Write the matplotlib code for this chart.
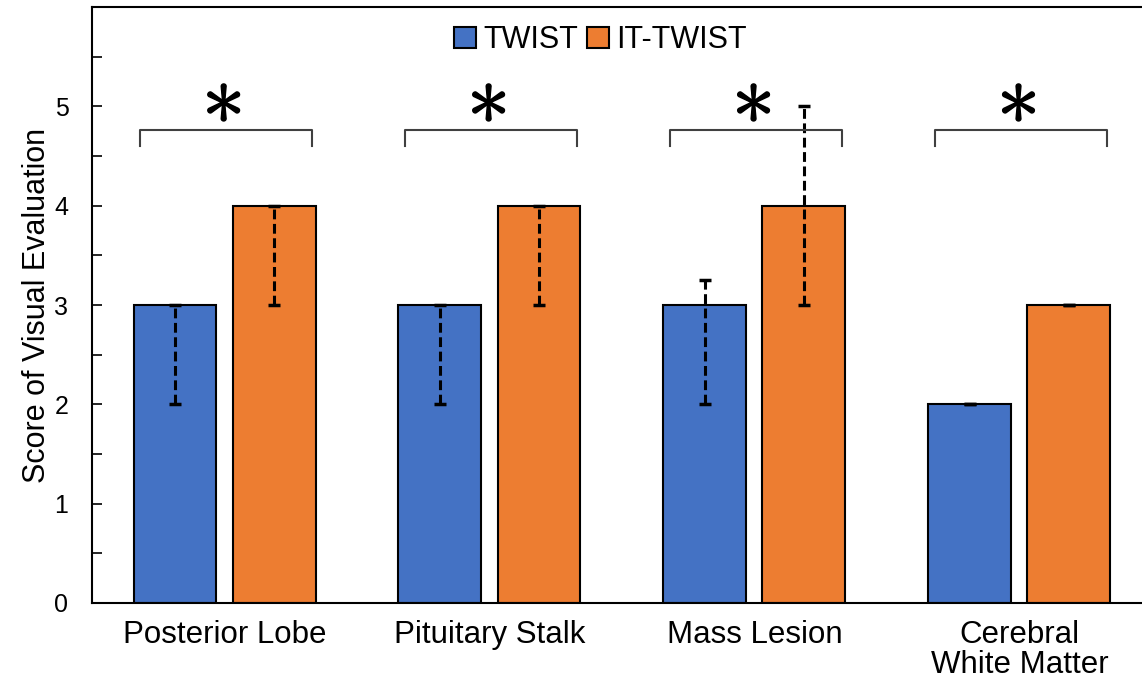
import numpy as np
import matplotlib.pyplot as plt
import matplotlib.patheffects as pe

plt.rcParams['font.family'] = ['Liberation Sans', 'DejaVu Sans']

categories = ['Posterior Lobe', 'Pituitary Stalk', 'Mass Lesion', 'Cerebral\nWhite Matter']
series = ['TWIST', 'IT-TWIST']
twist = [3, 3, 3, 2]
twist_low = [2, 2, 2, 2]
twist_high = [3, 3, 3.25, 2]
ittwist = [4, 4, 4, 3]
ittwist_low = [3, 3, 3, 3]
ittwist_high = [4, 4, 5, 3]
signif = [r'$\ast$', r'$\ast$', r'$\ast$', r'$\ast$']

colors = ['#4472C4', '#ED7D31']

fig = plt.figure(figsize=(11.42, 6.97), dpi=100)
ax = fig.add_axes([0.0806, 0.1349, 0.928, 0.855])

x = np.arange(len(categories))
w = 0.313
off = 0.187

vals = [twist, ittwist]
lows = [twist_low, ittwist_low]
highs = [twist_high, ittwist_high]
for i, name in enumerate(series):
    xs = x + (-off if i == 0 else off)
    v = np.array(vals[i])
    ax.bar(xs, v, w, color=colors[i], edgecolor='black', linewidth=1.5, label=name, zorder=2)
    err = [v - np.array(lows[i]), np.array(highs[i]) - v]
    eb = ax.errorbar(xs, v, yerr=err, fmt='none', ecolor='black', elinewidth=2.2,
                     capsize=4.5, capthick=2.5, zorder=3)
    eb[2][0].set_linestyle((0, (3.2, 1.5)))

# significance brackets
for i, s in enumerate(signif):
    ax.plot([x[i] - 0.32, x[i] - 0.32, x[i] + 0.33, x[i] + 0.33],
            [4.6, 4.76, 4.76, 4.6], color='#404040', lw=1.5, zorder=3)
    ax.text(x[i] - 0.01, 5.04, s, ha='center', va='center', fontsize=62, math_fontfamily='cm',
            path_effects=[pe.withStroke(linewidth=1.0, foreground='black')])

ax.set_xlim(-0.5, 3.5)
ax.set_ylim(0, 6)
ax.set_yticks(range(6))
ax.set_yticks(np.arange(0.5, 6, 1), minor=True)
ax.set_xticks(x)
ax.set_xticklabels(categories, fontsize=22.5, linespacing=1.0)
ax.tick_params(axis='x', length=0, pad=12)
ax.tick_params(axis='y', which='both', direction='in', length=7, width=1.2)
ax.tick_params(axis='y', labelsize=18, pad=17)
ax.set_ylabel('Score of Visual Evaluation', fontsize=22, labelpad=2)

for sp in ['left', 'bottom', 'top']:
    ax.spines[sp].set_linewidth(1.5)
ax.spines['right'].set_visible(False)

leg = ax.legend(loc='upper center', bbox_to_anchor=(0.48, 1.0), ncol=2, frameon=False,
                fontsize=22, handlelength=0.7, handleheight=0.7, handletextpad=0.25,
                columnspacing=0.3, borderaxespad=0.2)

fig.savefig('out.png', dpi=100)
